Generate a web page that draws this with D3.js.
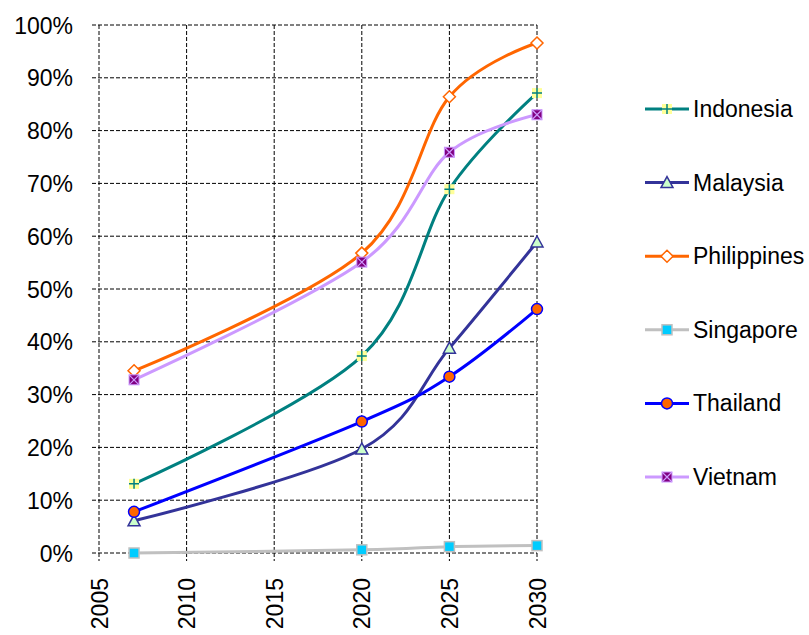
<!DOCTYPE html>
<html><head><meta charset="utf-8">
<script src="https://cdn.jsdelivr.net/npm/d3@7"></script>
<style>body{margin:0;background:#fff}svg{display:block}text{font-family:Arial,"Liberation Sans",sans-serif;fill:#000}</style>
</head><body>
<svg id="c" width="809" height="635"></svg>
<script>
const years = [2007, 2020, 2025, 2030];
const xTicks = [2005, 2010, 2015, 2020, 2025, 2030];
const yTicks = [0, 0.1, 0.2, 0.3, 0.4, 0.5, 0.6, 0.7, 0.8, 0.9, 1.0];
const seriesNames = ["Indonesia", "Malaysia", "Philippines", "Singapore", "Thailand", "Vietnam"];
const indonesia = [0.131, 0.373, 0.689, 0.871];
const malaysia = [0.061, 0.197, 0.388, 0.589];
const philippines = [0.345, 0.568, 0.864, 0.966];
const singapore = [0.000, 0.006, 0.012, 0.014];
const thailand = [0.078, 0.249, 0.334, 0.462];
const vietnam = [0.328, 0.551, 0.759, 0.830];
const values = [indonesia, malaysia, philippines, singapore, thailand, vietnam];

const styles = [
  {line:"#008080", marker:"plus", fill:"#ffff99", stroke:"#008080"},
  {line:"#333399", marker:"triangle", fill:"#ccffcc", stroke:"#333399"},
  {line:"#ff6600", marker:"diamond", fill:"#ffffff", stroke:"#ff6600"},
  {line:"#c0c0c0", marker:"square", fill:"#00ccff", stroke:"#c0c0c0"},
  {line:"#0000ff", marker:"circle", fill:"#ff6600", stroke:"#0000ff"},
  {line:"#cc99ff", marker:"xsquare", fill:"#800080", stroke:"#cc99ff"}
];

const svg = d3.select("#c");
const L = 99, R = 537, T = 25, B = 553;
const x = d3.scaleLinear().domain([2005, 2030]).range([L, R]);
const y = d3.scaleLinear().domain([0, 1]).range([B, T]);

const grid = svg.append("g").attr("stroke", "#000").attr("stroke-width", 1).attr("stroke-dasharray", "4,2");
grid.selectAll(".h").data(yTicks).join("line")
  .attr("x1", L - 7).attr("x2", R).attr("y1", d => y(d)).attr("y2", d => y(d));
grid.selectAll(".v").data(xTicks).join("line")
  .attr("x1", d => x(d)).attr("x2", d => x(d)).attr("y1", T).attr("y2", B + 8);

// y-axis labels
const yAxis = d3.axisLeft(y).tickValues(yTicks).tickFormat(d3.format(".0%")).tickSize(0).tickPadding(0);
const ya = svg.append("g").attr("transform", `translate(${L - 26},0)`).call(yAxis);
ya.select(".domain").remove();
ya.selectAll("text").style("font-size", "23px").attr("dy", "0.35em");

// x-axis labels rotated
const xAxis = d3.axisBottom(x).tickValues(xTicks).tickFormat(d3.format("d")).tickSize(0);
const xa = svg.append("g").attr("transform", `translate(0,${B})`).call(xAxis);
xa.select(".domain").remove();
xa.selectAll("text").style("font-size", "23px")
  .attr("text-anchor", "end").attr("transform", "translate(0,25) rotate(-90)")
  .attr("x", 0).attr("y", 0).attr("dy", "0.35em");

function drawMarker(g, s, cx, cy) {
  const m = g.append("g").attr("transform", `translate(${cx},${cy})`);
  if (s.marker === "plus") {
    m.append("rect").attr("x", -5).attr("y", -5).attr("width", 10).attr("height", 10).attr("fill", s.fill);
    m.append("path").attr("d", "M-5,0H5M0,-5V5").attr("stroke", s.stroke).attr("stroke-width", 1.5);
  } else if (s.marker === "triangle") {
    m.append("path").attr("d", "M0,-6L6,5H-6Z").attr("fill", s.fill).attr("stroke", s.stroke).attr("stroke-width", 1.5);
  } else if (s.marker === "diamond") {
    m.append("path").attr("d", "M0,-6L6,0L0,6L-6,0Z").attr("fill", s.fill).attr("stroke", s.stroke).attr("stroke-width", 1.5);
  } else if (s.marker === "square") {
    m.append("rect").attr("x", -5).attr("y", -5).attr("width", 10).attr("height", 10).attr("fill", s.fill).attr("stroke", s.stroke).attr("stroke-width", 1.5);
  } else if (s.marker === "circle") {
    m.append("circle").attr("r", 5.5).attr("fill", s.fill).attr("stroke", s.stroke).attr("stroke-width", 1.5);
  } else if (s.marker === "xsquare") {
    m.append("rect").attr("x", -5).attr("y", -5).attr("width", 10).attr("height", 10).attr("fill", s.fill).attr("stroke", s.stroke).attr("stroke-width", 1);
    m.append("path").attr("d", "M-5,-5L5,5M5,-5L-5,5").attr("stroke", s.stroke).attr("stroke-width", 1.2);
  }
}

const line = d3.line().x(d => x(d[0])).y(d => y(d[1])).curve(d3.curveCardinal.tension(0));
const plot = svg.append("g");
values.forEach((vals, i) => {
  const s = styles[i];
  const pts = years.map((yr, j) => [yr, vals[j]]);
  plot.append("path").attr("d", line(pts)).attr("fill", "none").attr("stroke", s.line).attr("stroke-width", 3);
});
values.forEach((vals, i) => {
  years.forEach((yr, j) => drawMarker(plot, styles[i], x(yr), y(vals[j])));
});

// legend
const lg = svg.append("g");
seriesNames.forEach((name, i) => {
  const s = styles[i];
  const ly = 109 + i * 73.6;
  lg.append("line").attr("x1", 645).attr("x2", 689).attr("y1", ly).attr("y2", ly).attr("stroke", s.line).attr("stroke-width", 3);
  drawMarker(lg, s, 667, ly);
  lg.append("text").attr("x", 693).attr("y", ly).attr("dy", "0.35em").style("font-size", "23px").text(name);
});
</script>
</body></html>
